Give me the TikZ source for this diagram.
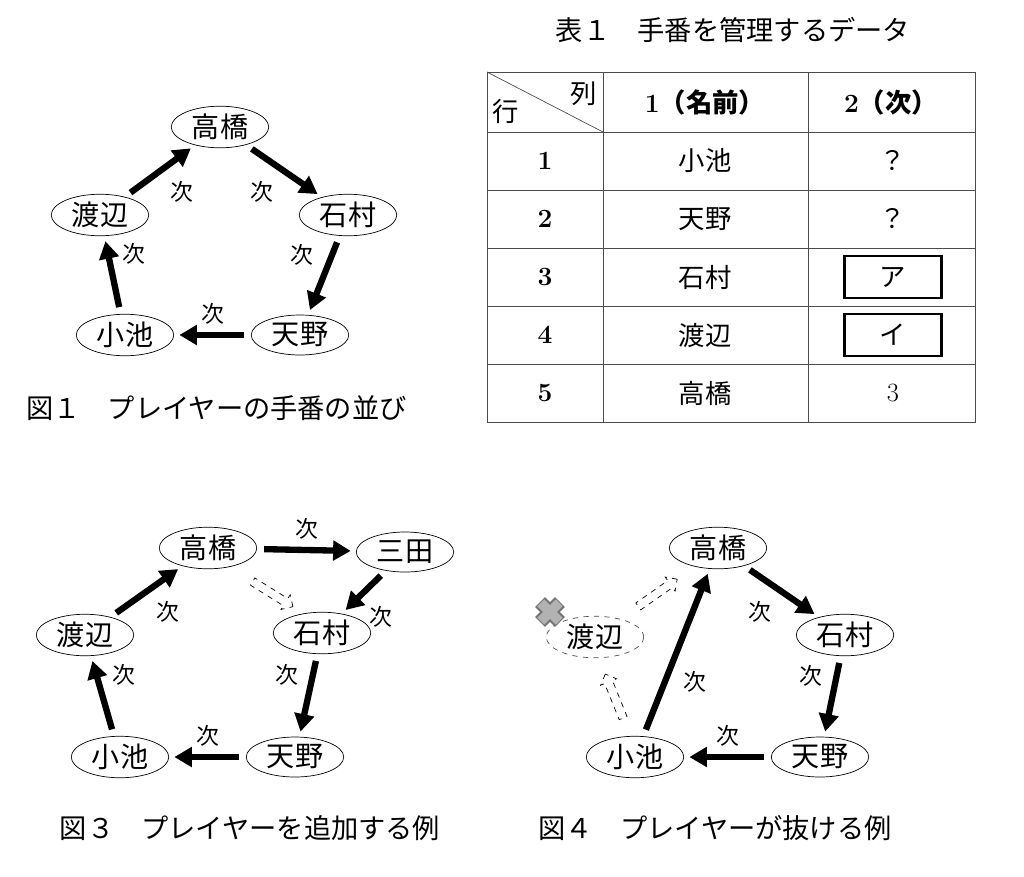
\documentclass[tikz,border=0pt]{standalone}
\usepackage{fontspec}
\newfontfamily\jp{Noto Sans CJK JP}
\usetikzlibrary{arrows.meta,shapes.arrows,shapes.geometric}
\tikzstyle{player}=[draw,ellipse,minimum width=1.95cm,minimum height=0.8cm,inner sep=1pt,font=\jp\fontsize{16}{18}\selectfont]
\tikzstyle{gone}=[player,dashed,draw=black!70]
\tikzstyle{next}=[line width=3.6pt,-{Triangle[length=10pt,width=11pt]},shorten <=4pt,shorten >=3pt]
\tikzstyle{tsugi}=[font=\jp\fontsize{13}{15}\selectfont,inner sep=4pt]
\tikzstyle{ghost}=[draw,dashed,single arrow,minimum height=0.95cm,inner sep=2.2pt,single arrow head extend=2.5pt]
\tikzstyle{caption}=[font=\jp\fontsize{15.5}{18}\selectfont]
\tikzstyle{cell}=[font=\jp\fontsize{15}{17}\selectfont]
\tikzstyle{num}=[font=\bfseries\fontsize{15}{17}\selectfont]
\begin{document}
\begin{tikzpicture}[x=0.02cm,y=-0.02cm]
  \useasboundingbox (0,0) rectangle (1024,876);

  % Figure 1.
  \node[player] (ta1) at (220,127) {高橋};
  \node[player] (wa1) at (100,215) {渡辺};
  \node[player] (is1) at (348,215) {石村};
  \node[player] (ko1) at (125,335) {小池};
  \node[player] (am1) at (300,335) {天野};
  \draw[next] (wa1) -- node[tsugi,swap,auto] {次} (ta1);
  \draw[next] (ta1) -- node[tsugi,swap,auto] {次} (is1);
  \draw[next] (is1) -- node[tsugi,swap,auto] {次} (am1);
  \draw[next] (am1) -- node[tsugi,swap,auto] {次} (ko1);
  \draw[next] (ko1) -- node[tsugi,swap,auto] {次} (wa1);
  \node[caption,anchor=west] (cap1) at (20,408) {図１　プレイヤーの手番の並び};

  % Table 1.
  \node[caption] (cap2) at (733,30) {表１　手番を管理するデータ};
  \draw[black!70] (487,72) rectangle (975,422);
  \foreach \y in {132,190,248,306,364} \draw[black!70] (487,\y) -- (975,\y);
  \draw[black!70] (603,72) -- (603,422);
  \draw[black!70] (808,72) -- (808,422);
  \draw[black!70] (487,72) -- (603,132);
  \node[cell] (col) at (584,94) {列};
  \node[cell] (row) at (506,112) {行};
  \node[num] (h1) at (705,102) {1\jp（名前）};
  \node[num] (h2) at (891,102) {2\jp（次）};
  \foreach \i/\n/\y in {1/小池/161,2/天野/219,3/石村/277,4/渡辺/335,5/高橋/393} {
    \node[num] (r\i) at (545,\y) {\i};
    \node[cell] (n\i) at (705,\y) {\n};
  }
  \node[cell] (q1) at (893,161) {？};
  \node[cell] (q2) at (893,219) {？};
  \node[cell,draw,line width=1.6pt,minimum width=1.95cm,minimum height=0.84cm] (ba) at (893,277) {ア};
  \node[cell,draw,line width=1.6pt,minimum width=1.95cm,minimum height=0.84cm] (bi) at (893,335) {イ};
  \node (q5) at (893,393) {\fontsize{15}{17}\selectfont 3};

  % Figure 3.
  \node[player] (ta3) at (208,548) {高橋};
  \node[player] (mi3) at (405,552) {三田};
  \node[player] (wa3) at (85,635) {渡辺};
  \node[player] (is3) at (322,633) {石村};
  \node[player] (ko3) at (120,757) {小池};
  \node[player] (am3) at (295,757) {天野};
  \draw[next] (ta3) -- node[tsugi,auto] {次} (mi3);
  \draw[next] (mi3) -- node[tsugi,auto,pos=0.6] {次} (is3);
  \draw[next] (is3) -- node[tsugi,swap,auto] {次} (am3);
  \draw[next] (am3) -- node[tsugi,swap,auto] {次} (ko3);
  \draw[next] (ko3) -- node[tsugi,swap,auto] {次} (wa3);
  \draw[next] (wa3) -- node[tsugi,swap,auto] {次} (ta3);
  \node[ghost,rotate=-32] (g3) at (271,593) {};
  \node[caption] (cap3) at (250,828) {図３　プレイヤーを追加する例};

  % Figure 4.
  \node[player] (ta4) at (718,548) {高橋};
  \node[player] (is4) at (845,635) {石村};
  \node[player] (am4) at (820,757) {天野};
  \node[player] (ko4) at (635,757) {小池};
  \node[gone] (wa4) at (595,637) {渡辺};
  \draw[next] (ta4) -- node[tsugi,swap,auto] {次} (is4);
  \draw[next] (is4) -- node[tsugi,swap,auto] {次} (am4);
  \draw[next] (am4) -- node[tsugi,swap,auto] {次} (ko4);
  \draw[next] (ko4) -- node[tsugi,swap,auto,pos=0.45] {次} (ta4);
  \node[ghost,rotate=35] (g4a) at (656,594) {};
  \node[ghost,rotate=112] (g4b) at (615,698) {};
  % Cross.
  \foreach \a in {45,-45}
    \draw[line width=8pt,black!55,rotate around={\a:(550,612)}] (536,612) -- (564,612);
  \foreach \a in {45,-45}
    \draw[line width=5.5pt,black!30,rotate around={\a:(550,612)}] (537,612) -- (563,612);
  \node[caption] (cap4) at (715,828) {図４　プレイヤーが抜ける例};
\end{tikzpicture}
\end{document}
